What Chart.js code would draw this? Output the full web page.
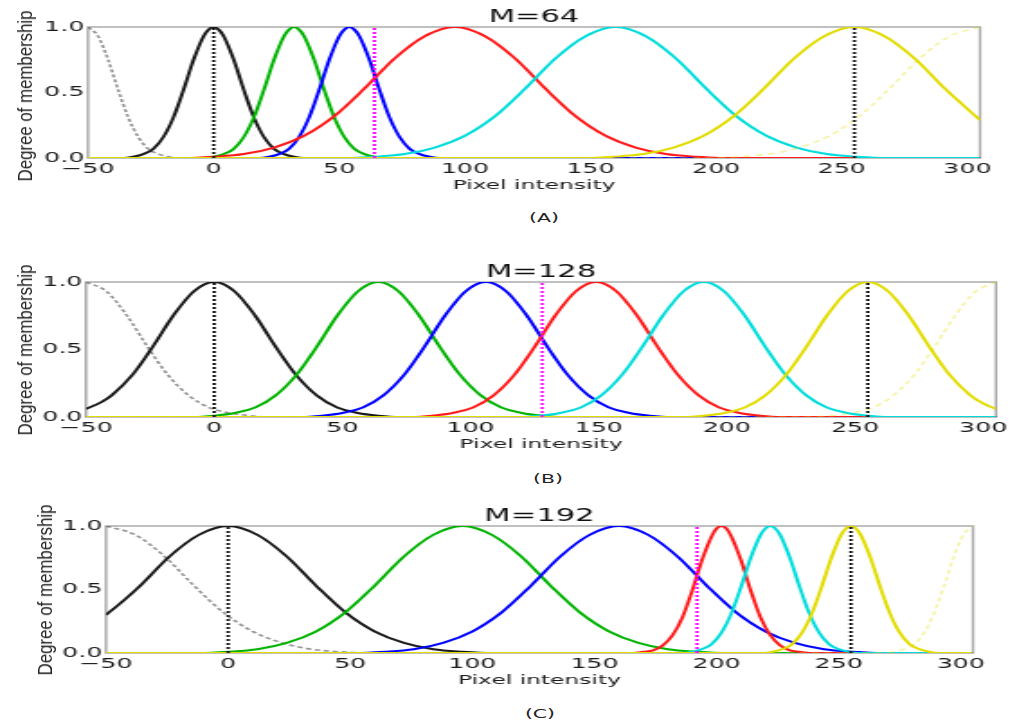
<!DOCTYPE html>
<html>
<head>
<meta charset="utf-8">
<script src="https://cdn.jsdelivr.net/npm/chart.js@4"></script>
<style>
  body { margin: 0; background: #fff; }
  #fig { position: relative; width: 1016px; height: 725px; overflow: hidden; background: #fff; }
  #fig canvas { position: absolute; left: 0; transform: scaleX(1.8); transform-origin: 0 0; }
  .ylab { position: absolute; width: 260px; height: 22px; line-height: 22px; text-align: center; white-space: nowrap;
          font: 20px "Liberation Sans", Arial, sans-serif; color: #222; transform: rotate(-90deg) scaleX(0.84); }
  .cap { position: absolute; width: 80px; height: 14px; line-height: 14px; text-align: center;
         font: 12px "DejaVu Sans", sans-serif; color: #222; transform: scaleX(1.7); }
</style>
</head>
<body>
<div id="fig"></div>
<script>
// Axis ticks and panel texts
var xTicks = [-50, 0, 50, 100, 150, 200, 250, 300];
var yTicks = [0, 0.5, 1];
var panelTitles = ["M=64", "M=128", "M=192"];
var panelCaptions = ["(A)", "(B)", "(C)"];
var markerM = [64, 128, 192];     // magenta dotted line
var markerRange = [0, 255];       // black dotted lines

// (A) M=64 - membership curves, [pixel intensity, degree]
var gray64 = [[-50,1],[-46,0.93],[-42,0.75],[-38,0.52],[-34,0.31],[-30,0.16],[-26,0.07],[-22,0.03],[-18,0.01],[-14,0],[305,0]];
var black64 = [[-50,0],[-36,0],[-32,0.01],[-28,0.03],[-24,0.07],[-20,0.16],[-16,0.31],[-12,0.52],[-8,0.75],[-4,0.93],[-2,0.98],[0,1],[2,0.98],[4,0.93],[8,0.75],[12,0.52],[16,0.31],[20,0.16],[24,0.07],[28,0.03],[32,0.01],[36,0],[305,0]];
var green64 = [[-50,0],[-4,0],[0,0.01],[4,0.03],[8,0.07],[12,0.16],[16,0.31],[20,0.52],[24,0.75],[28,0.93],[30,0.98],[32,1],[34,0.98],[36,0.93],[40,0.75],[44,0.52],[48,0.31],[52,0.16],[56,0.07],[60,0.03],[64,0.01],[68,0],[305,0]];
var blue64 = [[-50,0],[18,0],[22,0.01],[26,0.03],[30,0.07],[34,0.16],[38,0.31],[42,0.52],[46,0.75],[50,0.93],[52,0.98],[54,1],[56,0.98],[58,0.93],[62,0.75],[66,0.52],[70,0.31],[74,0.16],[78,0.07],[82,0.03],[86,0.01],[90,0],[305,0]];
var red64 = [[-50,0],[-12,0],[0,0.01],[12,0.03],[24,0.08],[36,0.17],[48,0.32],[60,0.53],[72,0.76],[84,0.93],[96,1],[108,0.93],[120,0.76],[132,0.53],[144,0.32],[156,0.17],[168,0.08],[180,0.03],[192,0.01],[204,0],[305,0]];
var cyan64 = [[-50,0],[52,0],[64,0.01],[76,0.03],[88,0.08],[100,0.17],[112,0.32],[124,0.53],[136,0.76],[148,0.93],[160,1],[172,0.93],[184,0.76],[196,0.53],[208,0.32],[220,0.17],[232,0.08],[244,0.03],[256,0.01],[268,0],[305,0]];
var yellow64 = [[-50,0],[147,0],[159,0.01],[171,0.03],[183,0.08],[195,0.17],[207,0.32],[219,0.53],[231,0.76],[243,0.93],[255,1],[267,0.93],[279,0.76],[291,0.53],[305,0.29]];
var yellowDash64 = [[-50,0],[197,0],[209,0.01],[221,0.03],[233,0.08],[245,0.17],[257,0.32],[269,0.53],[281,0.76],[293,0.93],[305,1]];

// (B) M=128
var gray128 = [[-50,1],[-42,0.93],[-34,0.75],[-26,0.52],[-18,0.31],[-10,0.16],[-2,0.07],[6,0.03],[14,0.01],[22,0],[305,0]];
var black128 = [[-50,0.06],[-44,0.11],[-40,0.16],[-32,0.31],[-24,0.52],[-16,0.75],[-8,0.93],[0,1],[8,0.93],[16,0.75],[24,0.52],[32,0.31],[40,0.16],[48,0.07],[56,0.03],[64,0.01],[72,0],[305,0]];
var green128 = [[-50,0],[-8,0],[0,0.01],[8,0.03],[16,0.07],[24,0.16],[32,0.31],[40,0.52],[48,0.75],[56,0.93],[64,1],[72,0.93],[80,0.75],[88,0.52],[96,0.31],[104,0.16],[112,0.07],[120,0.03],[128,0.01],[136,0],[305,0]];
var blue128 = [[-50,0],[34,0],[42,0.01],[50,0.03],[58,0.07],[66,0.16],[74,0.31],[82,0.52],[90,0.75],[98,0.93],[106,1],[114,0.93],[122,0.75],[130,0.52],[138,0.31],[146,0.16],[154,0.07],[162,0.03],[170,0.01],[178,0],[305,0]];
var red128 = [[-50,0],[77,0],[85,0.01],[93,0.03],[101,0.07],[109,0.16],[117,0.31],[125,0.52],[133,0.75],[141,0.93],[149,1],[157,0.93],[165,0.75],[173,0.52],[181,0.31],[189,0.16],[197,0.07],[205,0.03],[213,0.01],[221,0],[305,0]];
var cyan128 = [[-50,0],[119,0],[127,0.01],[135,0.03],[143,0.07],[151,0.16],[159,0.31],[167,0.52],[175,0.75],[183,0.93],[191,1],[199,0.93],[207,0.75],[215,0.52],[223,0.31],[231,0.16],[239,0.07],[247,0.03],[255,0.01],[263,0],[305,0]];
var yellow128 = [[-50,0],[183,0],[191,0.01],[199,0.03],[207,0.07],[215,0.16],[223,0.31],[231,0.52],[239,0.75],[247,0.93],[255,1],[263,0.93],[271,0.75],[279,0.52],[287,0.31],[295,0.16],[300,0.1],[305,0.06]];
var yellowDash128 = [[-50,0],[233,0],[241,0.01],[249,0.03],[257,0.07],[265,0.16],[273,0.31],[281,0.52],[289,0.75],[297,0.93],[305,1]];

// (C) M=192
var gray192 = [[-50,1],[-38,0.93],[-26,0.76],[-14,0.53],[-2,0.32],[10,0.17],[22,0.08],[34,0.03],[46,0.01],[58,0],[305,0]];
var black192 = [[-50,0.3],[-43,0.41],[-36,0.53],[-24,0.76],[-12,0.93],[0,1],[12,0.93],[24,0.76],[36,0.53],[48,0.32],[60,0.17],[72,0.08],[84,0.03],[96,0.01],[108,0],[305,0]];
var green192 = [[-50,0],[-12,0],[0,0.01],[12,0.03],[24,0.08],[36,0.17],[48,0.32],[60,0.53],[72,0.76],[84,0.93],[96,1],[108,0.93],[120,0.76],[132,0.53],[144,0.32],[156,0.17],[168,0.08],[180,0.03],[192,0.01],[204,0],[305,0]];
var blue192 = [[-50,0],[52,0],[64,0.01],[76,0.03],[88,0.08],[100,0.17],[112,0.32],[124,0.53],[136,0.76],[148,0.93],[160,1],[172,0.93],[184,0.76],[196,0.53],[208,0.32],[220,0.17],[232,0.08],[244,0.03],[256,0.01],[268,0],[305,0]];
var red192 = [[-50,0],[166,0],[170,0.01],[174,0.02],[178,0.06],[182,0.14],[186,0.28],[190,0.49],[194,0.73],[198,0.92],[200,0.98],[202,1],[204,0.98],[206,0.92],[210,0.73],[214,0.49],[218,0.28],[222,0.14],[226,0.06],[230,0.02],[234,0.01],[238,0],[305,0]];
var cyan192 = [[-50,0],[186,0],[190,0.01],[194,0.03],[198,0.07],[202,0.16],[206,0.31],[210,0.52],[214,0.75],[218,0.93],[220,0.98],[222,1],[224,0.98],[226,0.93],[230,0.75],[234,0.52],[238,0.31],[242,0.16],[246,0.07],[250,0.03],[254,0.01],[258,0],[305,0]];
var yellow192 = [[-50,0],[219,0],[223,0.01],[227,0.03],[231,0.07],[235,0.16],[239,0.31],[243,0.52],[247,0.75],[251,0.93],[253,0.98],[255,1],[257,0.98],[259,0.93],[263,0.75],[267,0.52],[271,0.31],[275,0.16],[279,0.07],[283,0.03],[287,0.01],[291,0],[305,0]];
var yellowDash192 = [[-50,0],[269,0],[273,0.01],[277,0.03],[281,0.07],[285,0.16],[289,0.31],[293,0.52],[297,0.75],[301,0.93],[305,1]];

var panelCurves = [
    [gray64, black64, green64, blue64, red64, cyan64, yellow64, yellowDash64],
    [gray128, black128, green128, blue128, red128, cyan128, yellow128, yellowDash128],
    [gray192, black192, green192, blue192, red192, cyan192, yellow192, yellowDash192]
];

// styles, same order as the curves above
var curveStyles = [
    { color: "rgba(90,90,90,0.65)", width: 1.6, dash: [3, 2] },
    { color: "#1a1a1a", width: 2 },
    { color: "#00b300", width: 2 },
    { color: "#0000ff", width: 2 },
    { color: "#ff1a1a", width: 2 },
    { color: "#00dcdc", width: 2 },
    { color: "#e2dc00", width: 2 },
    { color: "rgba(226,220,0,0.35)", width: 1.6, dash: [4, 3] }
];

// page layout of each panel (css px); canvases are stretched by SX
var SX = 1.8;
var CW = 565;
var layouts = [
    { top: 0,   height: 205, plotTop: 27,  plotBottom: 158, left: 88,  right: 980, capX: 544, capY: 218, labX: 25, labY: 96 },
    { top: 240, height: 225, plotTop: 282, plotBottom: 417, left: 86,  right: 996, capX: 548, capY: 479, labX: 25, labY: 350 },
    { top: 484, height: 220, plotTop: 526, plotBottom: 653, left: 106, right: 973, capX: 540, capY: 714, labX: 45, labY: 590 }
];

Chart.defaults.font.family = "'DejaVu Sans', sans-serif";
Chart.defaults.color = "#222";

var fig = document.getElementById("fig");

var framePlugin = {
    id: "frame",
    beforeDatasetsDraw: function (chart) {
        var a = chart.chartArea, ctx = chart.ctx;
        ctx.save();
        ctx.strokeStyle = "#a6a6a6";
        ctx.lineWidth = 1.4;
        ctx.strokeRect(a.left, a.top, a.right - a.left, a.bottom - a.top);
        ctx.restore();
    }
};

var titlePlugin = {
    id: "paneltitle",
    afterDraw: function (chart, args, opts) {
        var a = chart.chartArea, ctx = chart.ctx;
        ctx.save();
        ctx.font = "17px 'DejaVu Sans'";
        ctx.fillStyle = "#111";
        ctx.textAlign = "center";
        ctx.textBaseline = "middle";
        ctx.fillText(opts.text, (a.left + a.right) / 2, a.top - 9);
        ctx.restore();
    }
};

layouts.forEach(function (L, p) {
    var cv = document.createElement("canvas");
    cv.width = CW;
    cv.height = L.height;
    cv.style.top = L.top + "px";
    cv.style.width = CW + "px";
    cv.style.height = L.height + "px";
    fig.appendChild(cv);

    var lab = document.createElement("div");
    lab.className = "ylab";
    lab.textContent = "Degree of membership";
    lab.style.left = (L.labX - 130) + "px";
    lab.style.top = (L.labY - 11) + "px";
    fig.appendChild(lab);

    var cap = document.createElement("div");
    cap.className = "cap";
    cap.textContent = panelCaptions[p];
    cap.style.left = (L.capX - 40) + "px";
    cap.style.top = (L.capY - 7) + "px";
    fig.appendChild(cap);

    var datasets = [];
    // dotted markers on top
    datasets.push({ data: [[markerM[p], 0], [markerM[p], 1]], borderColor: "#ff00ff", borderWidth: 1.8, borderDash: [2, 2] });
    markerRange.forEach(function (v) {
        datasets.push({ data: [[v, 0], [v, 1]], borderColor: "#111", borderWidth: 1.8, borderDash: [2, 2] });
    });
    // curves: later ones drawn on top, so push in reverse
    for (var i = panelCurves[p].length - 1; i >= 0; i--) {
        var st = curveStyles[i];
        datasets.push({
            data: panelCurves[p][i],
            borderColor: st.color,
            borderWidth: st.width,
            borderDash: st.dash || [],
            cubicInterpolationMode: "monotone"
        });
    }

    new Chart(cv, {
        type: "line",
        data: { datasets: datasets },
        plugins: [framePlugin, titlePlugin],
        options: {
            responsive: false,
            animation: false,
            events: [],
            layout: {
                padding: {
                    left: 0,
                    right: CW - L.right / SX,
                    top: L.plotTop - L.top,
                    bottom: L.height - (L.plotBottom - L.top) - 42
                }
            },
            elements: { point: { radius: 0 }, line: { fill: false } },
            plugins: {
                legend: { display: false },
                tooltip: { enabled: false },
                paneltitle: { text: panelTitles[p] }
            },
            scales: {
                x: {
                    type: "linear",
                    min: -50,
                    max: 305,
                    grid: { display: false, drawTicks: false },
                    border: { display: false },
                    afterBuildTicks: function (s) { s.ticks = xTicks.map(function (v) { return { value: v }; }); },
                    afterFit: function (s) { s.height = 42; },
                    ticks: {
                        font: { size: 14 },
                        color: "#1a1a1a",
                        padding: 3,
                        maxRotation: 0,
                        callback: function (v) { return v < 0 ? "\u2212" + Math.abs(v) : String(v); }
                    },
                    title: {
                        display: true,
                        text: "Pixel intensity",
                        font: { size: 13 },
                        color: "#1a1a1a",
                        padding: { top: 0, bottom: 7 }
                    }
                },
                y: {
                    type: "linear",
                    min: 0,
                    max: 1,
                    grid: { display: false, drawTicks: false },
                    border: { display: false },
                    afterBuildTicks: function (s) { s.ticks = yTicks.map(function (v) { return { value: v }; }); },
                    afterFit: function (s) { s.width = L.left / SX; },
                    ticks: {
                        font: { size: 14 },
                        color: "#1a1a1a",
                        padding: 2,
                        callback: function (v) { return Number(v).toFixed(1); }
                    }
                }
            }
        }
    });
});
</script>
</body>
</html>
